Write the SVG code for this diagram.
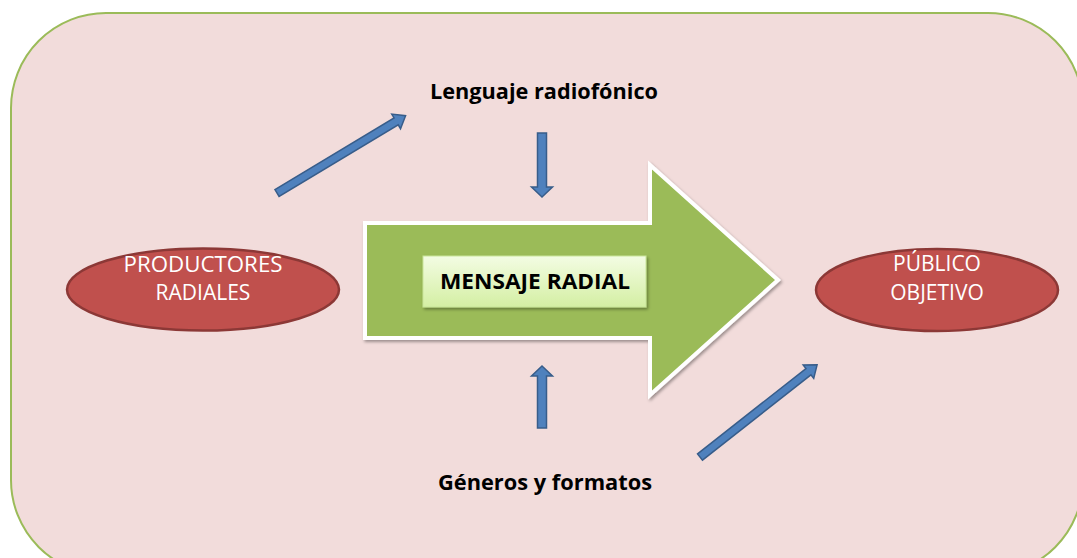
<svg xmlns="http://www.w3.org/2000/svg" width="1077" height="558" viewBox="0 0 1077 558">
  <defs>
    <linearGradient id="boxGrad" x1="0" y1="0" x2="0" y2="1">
      <stop offset="0" stop-color="#F3FCE3"/>
      <stop offset="1" stop-color="#D4EFA3"/>
    </linearGradient>
    <filter id="shadow" x="-10%" y="-10%" width="130%" height="130%">
      <feDropShadow dx="1.5" dy="2" stdDeviation="1.5" flood-color="#000" flood-opacity="0.35"/>
    </filter>
  </defs>
  <style>
    .frame { fill: #F2DCDB; stroke: #9BBB59; stroke-width: 2; }
    .ell { fill: #C0504D; stroke: #8C3836; stroke-width: 2.5; }
    .elltxt { font-family: "Open Sans", "Liberation Sans", sans-serif; font-size: 21px; fill: #FFFFFF; text-anchor: middle; }
    .lbl { font-family: "Open Sans", "Liberation Sans", sans-serif; font-size: 21.5px; font-weight: bold; fill: #000000; text-anchor: middle; }
    .blue { fill: #4F81BD; stroke: #385D8A; stroke-width: 1.5; }
    .big { fill: #9BBB59; stroke: #FFFFFF; stroke-width: 4; stroke-linejoin: miter; }
  </style>

  <g id="frame">
    <rect class="frame" x="11" y="13" width="1072" height="562" rx="95" ry="95"/>
  </g>

  <g id="mensaje-radial">
    <path class="big" filter="url(#shadow)" d="M365,223 L650,223 L650,165 L778,280 L650,395 L650,338 L365,338 Z"/>
    <rect x="423" y="256" width="223" height="51" fill="url(#boxGrad)" stroke="#C9E59A" stroke-width="1" filter="url(#shadow)"/>
    <text class="lbl" x="535" y="289" textLength="190" lengthAdjust="spacingAndGlyphs">MENSAJE RADIAL</text>
  </g>

  <g id="productores">
    <ellipse class="ell" cx="203" cy="289.5" rx="136" ry="41"/>
    <text class="elltxt" x="203" y="272" textLength="159" lengthAdjust="spacingAndGlyphs">PRODUCTORES</text>
    <text class="elltxt" x="203" y="300">RADIALES</text>
  </g>

  <g id="publico">
    <ellipse class="ell" cx="937" cy="290" rx="121" ry="41"/>
    <text class="elltxt" x="937" y="271">PÚBLICO</text>
    <text class="elltxt" x="937" y="300">OBJETIVO</text>
  </g>

  <g id="lenguaje">
    <text class="lbl" x="544" y="99" textLength="228" lengthAdjust="spacingAndGlyphs">Lenguaje radiofónico</text>
  </g>

  <g id="generos">
    <text class="lbl" x="545" y="490" textLength="214" lengthAdjust="spacingAndGlyphs">Géneros y formatos</text>
  </g>

  <g id="connectors">
    <path class="blue" transform="translate(277,193) rotate(-31)" d="M0,-4 L139,-4 L139,-8.5 L150,0 L139,8.5 L139,4 L0,4 Z"/>
    <path class="blue" d="M537.5,133 L546.5,133 L546.5,187 L552.5,187 L542,197 L531.5,187 L537.5,187 Z"/>
    <path class="blue" d="M537.5,428 L546.5,428 L546.5,376 L552.5,376 L542,366 L531.5,376 L537.5,376 Z"/>
    <path class="blue" transform="translate(700,457) rotate(-38.2)" d="M0,-4 L138,-4 L138,-8.5 L149,0 L138,8.5 L138,4 L0,4 Z"/>
  </g>
</svg>
